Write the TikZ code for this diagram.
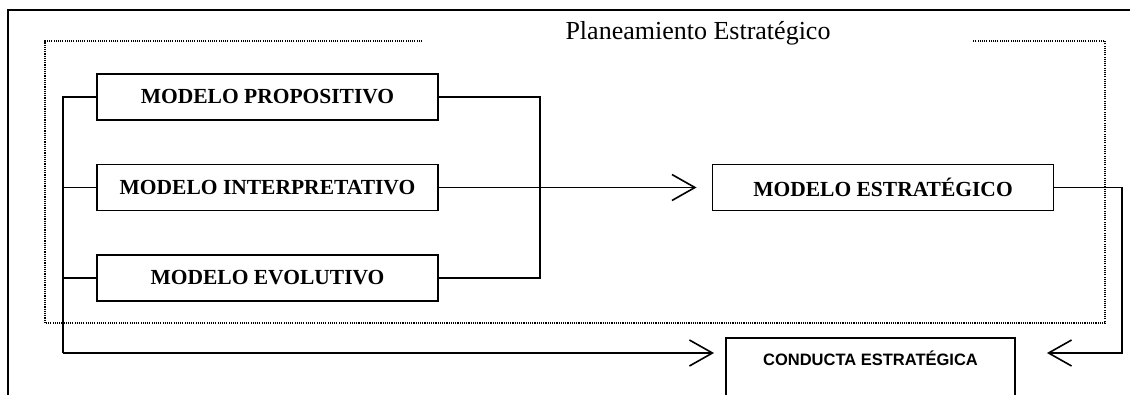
\documentclass[tikz,border=0pt]{standalone}
\usepackage{fontspec}
\setmainfont{Liberation Serif}
\newfontfamily\arialf{Liberation Sans}
\usetikzlibrary{arrows.meta}
\begin{document}
\begin{tikzpicture}[x=1pt,y=-1pt,
  modelbox/.style={draw, line width=1.9pt, minimum width=341pt, minimum height=46pt, inner sep=0pt,
    font=\bfseries\fontsize{21.5}{24}\selectfont},
  conn/.style={line width=1.6pt},
  arr/.style={conn, -{Straight Barb[length=23pt,width=26pt,line width=1.6pt]}},
  frameline/.style={line width=2pt},
  dotline/.style={line width=1.3pt, dash pattern=on 1.1pt off 1.1pt, black}]
\useasboundingbox (0,0) rectangle (1130,394);
% outer frame
\draw[frameline] (8,420) -- (8,10) -- (1140,10);
% dotted frame
\draw[dotline] (422,41) -| (45,323) -| (1105,41) -- (973,41);
% title
\node[anchor=base, inner sep=0pt, font=\fontsize{26}{30}\selectfont] (title) at (698,39) {Planeamiento Estratégico};
% boxes
\node[modelbox] (prop) at (267.5,97) {MODELO PROPOSITIVO};
\node[modelbox] (interp) at (267.5,187.5) {MODELO INTERPRETATIVO};
\node[modelbox] (evol) at (267.5,278) {MODELO EVOLUTIVO};
\node[modelbox] (estr) at (883,187.5) {MODELO ESTRATÉGICO};
\node[draw, line width=1.9pt, anchor=north, minimum width=289pt, inner xsep=0pt, inner ysep=16pt,
  text height=12pt, text depth=40pt, font=\arialf\bfseries\fontsize{16.5}{19}\selectfont]
  (cond) at (870.5,337) {CONDUCTA ESTRATÉGICA};
% bus coordinates
\coordinate (lbt) at (63,97);
\coordinate (lbb) at (63,353);
\coordinate (rbb) at (540,278);
\coordinate (rb) at (1122,353);
% left bus
\draw[conn] (prop.west) -- (lbt) -- (lbb);
\draw[conn] (interp.west) -- (interp.west -| lbt);
\draw[conn] (evol.west) -- (evol.west -| lbt);
\draw[arr, shorten >=11pt] (lbb) -- (lbb -| cond.west);
% right bus
\draw[conn] (prop.east) -| (rbb) -- (evol.east);
\draw[arr, shorten >=15pt] (interp.east) -- (estr.west);
% feedback path
\draw[arr, shorten >=31pt] (estr.east) -| (rb) -- (rb -| cond.east);
\end{tikzpicture}
\end{document}
